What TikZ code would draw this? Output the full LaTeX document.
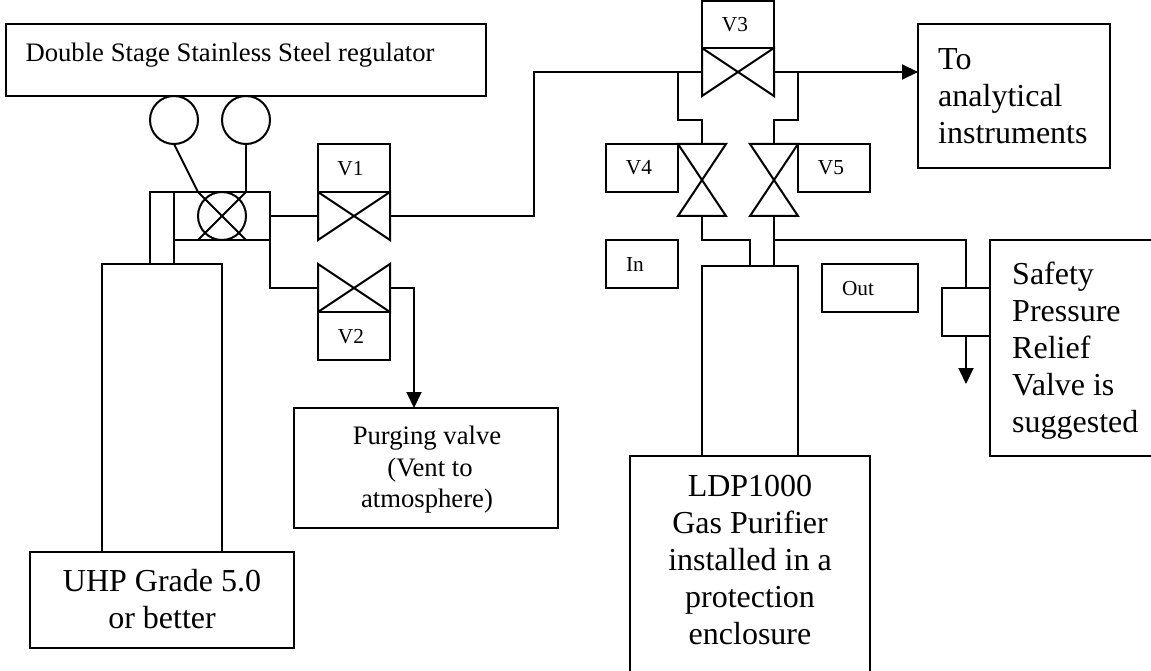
\documentclass[tikz,border=0pt]{standalone}
\usepackage{fontspec}
\setmainfont{Liberation Serif}
\usetikzlibrary{arrows.meta}
\tikzset{
  pipe/.style={line width=2pt},
  flow/.style={pipe,-{Triangle[length=16pt,width=15pt]}},
  boxnode/.style={draw,line width=2pt,inner sep=0pt,outer sep=0pt},
  valvenode/.style={inner sep=0pt,outer sep=0pt},
  gauge/.style={boxnode,circle,minimum size=48pt},
  smalltext/.style={inner sep=0pt,anchor=base,font=\fontsize{21.33}{25}\selectfont},
  midtext/.style={inner sep=0pt,anchor=north,align=center,font=\fontsize{26.67}{31.5}\selectfont},
  bigtext/.style={inner sep=0pt,anchor=north,align=center,font=\fontsize{32}{37}\selectfont},
}
\newcommand{\hvalve}[1]{\draw[pipe] (#1.north west) -- (#1.south east) -- (#1.north east) -- (#1.south west) -- cycle;}
\newcommand{\vvalve}[1]{\draw[pipe] (#1.north west) -- (#1.south east) -- (#1.south west) -- (#1.north east) -- cycle;}
\begin{document}
\begin{tikzpicture}[x=1pt,y=-1pt]
\useasboundingbox (0,0) rectangle (1151,671);
% regulator and cylinder
\node[boxnode,minimum width=480pt,minimum height=72pt] (regulator) at (246,60) {};
\node[midtext,anchor=base] (regulatortext) at (230,62) {Double Stage Stainless Steel regulator};
\node[gauge] (gauge1) at (174,120) {};
\node[gauge] (gauge2) at (246,120) {};
\node[boxnode,minimum width=24pt,minimum height=72pt] (neck) at (162,228) {};
\node[boxnode,minimum width=96pt,minimum height=48pt] (regblock) at (222,216) {};
\node[boxnode,minimum width=120pt,minimum height=288pt] (cylinder) at (162,408) {};
\node[boxnode,minimum width=264pt,minimum height=96pt] (grade) at (162,600) {};
\node[bigtext] (gradetext) at (162,569.5) {UHP Grade 5.0\\or better};
\node[valvenode,minimum width=48pt,minimum height=48pt] (regvalve) at (222,216) {};
\node[gauge] (regcircle) at (222,216) {};
\draw[pipe] (regvalve.north west) -- (regvalve.south east);
\draw[pipe] (regvalve.south west) -- (regvalve.north east);
\draw[pipe] (gauge1.south) -- (regvalve.north west);
\draw[pipe] (gauge2.south) -- (regvalve.north east);
% valves V1 and V2
\node[valvenode,minimum width=72pt,minimum height=48pt] (v1) at (354,216) {};
\node[boxnode,minimum width=72pt,minimum height=48pt] (v1box) at (354,168) {};
\node[smalltext] (v1text) at (350.5,175.5) {V1};
\node[valvenode,minimum width=72pt,minimum height=48pt] (v2) at (354,288) {};
\node[boxnode,minimum width=72pt,minimum height=48pt] (v2box) at (354,336) {};
\node[smalltext] (v2text) at (351,343) {V2};
\hvalve{v1}
\hvalve{v2}
\node[boxnode,minimum width=264pt,minimum height=120pt] (purging) at (426,468) {};
\node[midtext] (purgingtext) at (427,426) {Purging valve\\\hspace{6pt}(Vent to\\atmosphere)};
\coordinate (purgein) at (414,408);
\coordinate (bend) at (534,216);
\draw[pipe] (regblock.east) -- (v1.west);
\draw[pipe] (regblock.south east) |- (v2.west);
\draw[flow] (v2.east) -| (purgein);
% valves V3, V4 and V5
\node[valvenode,minimum width=72pt,minimum height=48pt] (v3) at (738,72) {};
\node[boxnode,minimum width=72pt,minimum height=47pt] (v3box) at (738,24.5) {};
\node[smalltext] (v3text) at (735,31.5) {V3};
\node[valvenode,minimum width=48pt,minimum height=72pt] (v4) at (702,180) {};
\node[boxnode,minimum width=72pt,minimum height=48pt] (v4box) at (642,168) {};
\node[smalltext] (v4text) at (639,174.5) {V4};
\node[valvenode,minimum width=48pt,minimum height=72pt] (v5) at (774,180) {};
\node[boxnode,minimum width=72pt,minimum height=48pt] (v5box) at (834,168) {};
\node[smalltext] (v5text) at (831,174.5) {V5};
\hvalve{v3}
\vvalve{v4}
\vvalve{v5}
\draw[pipe] (v1.east) -- (bend) |- (v3.west);
\node[boxnode,minimum width=192pt,minimum height=144pt] (tobox) at (1014,96) {};
\node[bigtext,align=left,anchor=north west] (totext) at (938,48.5) {To\\analytical\\instruments};
\draw[flow] (v3.east) -- (v3.east -| tobox.west);
\coordinate (tee4) at (678,72);
\coordinate (tee5) at (798,72);
\coordinate (drop4) at (702,120);
\coordinate (drop5) at (774,120);
\draw[pipe] (tee4) |- (drop4) -- (v4.north);
\draw[pipe] (tee5) |- (drop5) -- (v5.north);
% purifier
\node[boxnode,minimum width=72pt,minimum height=48pt] (inbox) at (642,264) {};
\node[smalltext] (intext) at (635,271.5) {In};
\node[boxnode,minimum width=96pt,minimum height=48pt] (outbox) at (870,288) {};
\node[smalltext] (outtext) at (858,295) {Out};
\node[boxnode,minimum width=96pt,minimum height=190pt] (column) at (750,361) {};
\node[boxnode,minimum width=240pt,minimum height=244pt] (purifier) at (750,578) {};
\node[bigtext] (purifiertext) at (750,475.5) {LDP1000\\Gas Purifier\\installed in a\\protection\\enclosure};
\coordinate (elbow4) at (702,240);
\coordinate (inlet) at (750,266);
\coordinate (outlet) at (774,266);
\coordinate (tee) at (774,240);
\draw[pipe] (v4.south) -- (elbow4) -| (inlet);
\draw[pipe] (v5.south) -- (outlet);
% relief valve
\node[boxnode,minimum width=180pt,minimum height=216pt] (safety) at (1080,348) {};
\node[bigtext,align=left,anchor=north west] (safetytext) at (1012,261.5) {Safety\\Pressure\\Relief\\Valve is\\suggested};
\node[boxnode,minimum width=48pt,minimum height=48pt] (relief) at (966,312) {};
\coordinate (ventout) at (966,384);
\draw[pipe] (tee) -| (relief.north);
\draw[flow] (relief.south) -- (ventout);
\end{tikzpicture}
\end{document}
